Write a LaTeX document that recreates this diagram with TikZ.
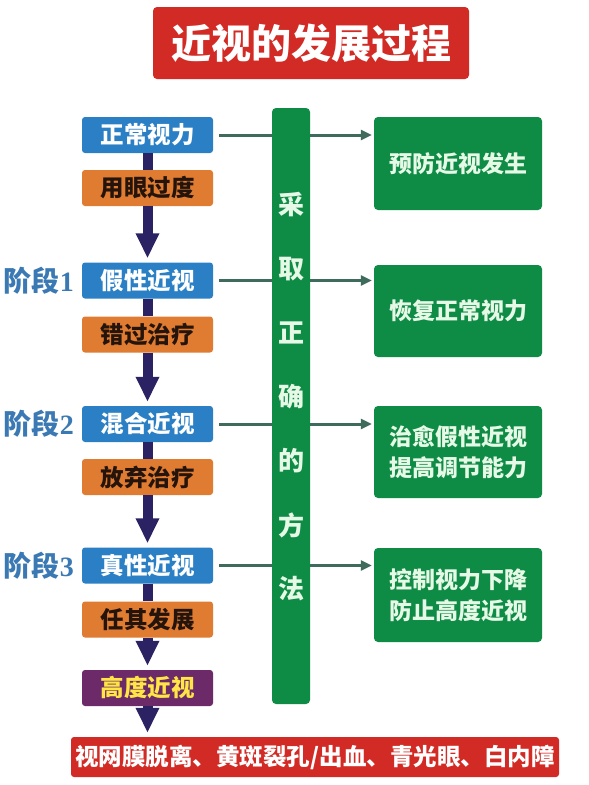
\documentclass[tikz,border=0pt]{standalone}
\usepackage{fontspec}
\newfontfamily\cjk{Noto Sans CJK SC}
\newfontfamily\digitfont{Liberation Serif}
\usetikzlibrary{arrows.meta}
\definecolor{titlered}{HTML}{D22A24}
\definecolor{boxblue}{HTML}{2B80C5}
\definecolor{boxorange}{HTML}{E07B32}
\definecolor{boxpurple}{HTML}{6C2A68}
\definecolor{boxgreen}{HTML}{0E8C46}
\definecolor{greentext}{HTML}{E6F8E6}
\definecolor{navy}{HTML}{2A2262}
\definecolor{linkgray}{HTML}{3E6B5C}
\definecolor{stageblue}{HTML}{3A79B3}
\definecolor{yellowtext}{HTML}{FFE646}
\definecolor{darktext}{HTML}{24140C}
\tikzset{
  basebox/.style={rounded corners=3pt, minimum width=131pt, minimum height=36pt, inner sep=0pt,
    font=\cjk\bfseries\fontsize{23.5}{27}\selectfont},
  bluebox/.style={basebox, fill=boxblue, text=white},
  orangebox/.style={basebox, fill=boxorange, text=darktext},
  purplebox/.style={basebox, fill=boxpurple, text=yellowtext},
  resultbox/.style={rounded corners=4pt, fill=boxgreen, text=greentext, minimum width=168pt, inner sep=0pt,
    align=center, font=\cjk\bfseries\fontsize{23}{31}\selectfont},
  stagelabel/.style={anchor=east, text=stageblue, inner sep=0pt, font=\cjk\bfseries\fontsize{28}{32}\selectfont},
  flowline/.style={draw=navy, line width=10pt},
  flowarrow/.style={flowline, -{Triangle[length=25pt,width=22pt]}, shorten >=4pt},
  linkarrow/.style={draw=linkgray, line width=3pt, -{Triangle[length=11pt,width=10pt]}, shorten <=6pt, shorten >=2pt},
  barchar/.style={text=greentext, font=\cjk\bfseries\fontsize{26}{28}\selectfont, inner sep=0pt}
}
\begin{document}
\begin{tikzpicture}[x=1pt,y=-1pt]
\useasboundingbox (0,0) rectangle (589,785);
\fill[white] (0,0) rectangle (589,785);

% title
\node[fill=titlered, rounded corners=4pt, minimum width=316pt, minimum height=72pt, inner sep=0pt,
  text=white, font=\cjk\bfseries\fontsize{40}{44}\selectfont] (title) at (311,43) {近视的发展过程};

% left chain
\node[bluebox] (n1) at (147.5,135) {正常视力};
\node[orangebox] (o1) at (147.5,188) {用眼过度};
\node[bluebox] (n2) at (147.5,280.5) {假性近视};
\node[orangebox] (o2) at (147.5,334.5) {错过治疗};
\node[bluebox] (n3) at (147.5,424) {混合近视};
\node[orangebox] (o3) at (147.5,477) {放弃治疗};
\node[bluebox] (n4) at (147.5,565.5) {真性近视};
\node[orangebox] (o4) at (147.5,619.5) {任其发展};
\node[purplebox] (p) at (147.5,688) {高度近视};
\node[fill=titlered, rounded corners=3pt, minimum width=488pt, minimum height=40pt, inner sep=0pt,
  text=white, font=\cjk\bfseries\fontsize{23.5}{27}\selectfont] (bottom) at (315,757) {视网膜脱离、黄斑裂孔/出血、青光眼、白内障};

% stage labels
\node[stagelabel] (s1) at (74,281) {阶段{\digitfont\bfseries 1}};
\node[stagelabel] (s2) at (74,424) {阶段{\digitfont\bfseries 2}};
\node[stagelabel] (s3) at (74,565.5) {阶段{\digitfont\bfseries 3}};

% right result boxes
\node[resultbox, minimum height=93pt] (r1) at (458,163.5) {预防近视发生};
\node[resultbox, minimum height=92pt] (r2) at (458,311) {恢复正常视力};
\node[resultbox, minimum height=92pt] (r3) at (458,452) {治愈假性近视\\提高调节能力};
\node[resultbox, minimum height=94pt] (r4) at (458,595) {控制视力下降\\防止高度近视};

% flow arrows
\draw[flowline] (n1.south) -- (o1.north);
\draw[flowarrow] (o1.south) -- (n2.north);
\draw[flowline] (n2.south) -- (o2.north);
\draw[flowarrow] (o2.south) -- (n3.north);
\draw[flowline] (n3.south) -- (o3.north);
\draw[flowarrow] (o3.south) -- (n4.north);
\draw[flowline] (n4.south) -- (o4.north);
\draw[flowarrow] (o4.south) -- (p.north);
\draw[flowarrow] (p.south) -- (p.south |- bottom.north);

% link arrows
\draw[linkarrow] (n1.east) -- (n1.east -| r1.west);
\draw[linkarrow] (n2.east) -- (n2.east -| r2.west);
\draw[linkarrow] (n3.east) -- (n3.east -| r3.west);
\draw[linkarrow] (n4.east) -- (n4.east -| r4.west);

% green bar
\node[fill=boxgreen, rounded corners=4pt, minimum width=38pt, minimum height=596pt, inner sep=0pt] (bar) at (291,406) {};
\node[barchar] (c1) at (291,205) {采};
\node[barchar] (c2) at (291,269) {取};
\node[barchar] (c3) at (291,333) {正};
\node[barchar] (c4) at (291,397) {确};
\node[barchar] (c5) at (291,461) {的};
\node[barchar] (c6) at (291,525) {方};
\node[barchar] (c7) at (291,589) {法};
\end{tikzpicture}
\end{document}
